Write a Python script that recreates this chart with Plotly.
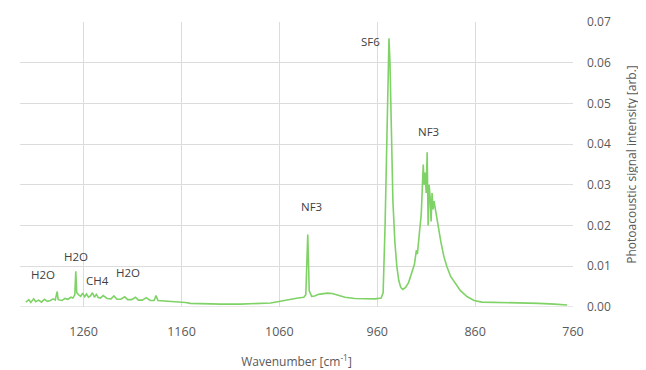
import plotly.graph_objects as go

wavenumber = [1319, 1316, 1314, 1311, 1309, 1306, 1303, 1300, 1297, 1294, 1291, 1289, 1287, 1286,
              1282, 1279, 1276, 1273, 1271, 1269, 1268, 1267, 1265, 1263, 1261, 1259, 1257, 1255,
              1253, 1251, 1249, 1247, 1245, 1243, 1240, 1236, 1232, 1229, 1226, 1222, 1218, 1215,
              1211, 1207, 1204, 1200, 1196, 1192, 1188, 1186, 1184, 1179, 1175, 1171, 1166, 1161,
              1156, 1151, 1141, 1120, 1100, 1079, 1069, 1059, 1049, 1041, 1035, 1033, 1031, 1029.5,
              1027, 1024, 1020, 1016, 1011, 1006, 1000, 993, 983, 972, 962, 956, 954, 952, 951,
              949.5, 948, 947, 946, 945, 944, 942, 940, 938, 936, 934, 931, 928, 925, 922, 920,
              919, 917, 915, 914, 913, 912, 911, 910, 909, 908, 907, 906, 905, 904, 903, 902, 900,
              898, 895, 892, 889, 885, 880, 875, 868, 861, 853, 835, 815, 795, 779, 766]
intensity = [0.0012, 0.0018, 0.0011, 0.0020, 0.0013, 0.0017, 0.0012, 0.0019, 0.0014, 0.0016, 0.0020,
             0.0017, 0.0038, 0.0018, 0.0016, 0.0021, 0.0019, 0.0024, 0.0022, 0.0030, 0.0088, 0.0035,
             0.0030, 0.0026, 0.0034, 0.0025, 0.0032, 0.0024, 0.0027, 0.0035, 0.0024, 0.0031, 0.0023,
             0.0022, 0.0028, 0.0021, 0.0020, 0.0027, 0.0019, 0.0019, 0.0025, 0.0018, 0.0018, 0.0024,
             0.0017, 0.0017, 0.0023, 0.0016, 0.0016, 0.0028, 0.0016, 0.0015, 0.0016, 0.0014, 0.0013,
             0.0013, 0.0011, 0.0009, 0.0008, 0.0007, 0.0007, 0.0008, 0.0010, 0.0014, 0.0019, 0.0022,
             0.0024, 0.0030, 0.0178, 0.0040, 0.0026, 0.0027, 0.0031, 0.0033, 0.0034, 0.0033, 0.0028,
             0.0024, 0.0021, 0.0020, 0.0020, 0.0022, 0.0035, 0.0200, 0.0320, 0.0500, 0.0660, 0.0600,
             0.0450, 0.0330, 0.0260, 0.0160, 0.0100, 0.0065, 0.0048, 0.0043, 0.0048, 0.0060, 0.0080,
             0.0105, 0.0140, 0.0130, 0.0180, 0.0230, 0.0290, 0.0350, 0.0300, 0.0330, 0.0280, 0.0380,
             0.0200, 0.0300, 0.0270, 0.0210, 0.0280, 0.0240, 0.0260, 0.0230, 0.0200, 0.0160, 0.0125,
             0.0100, 0.0075, 0.0058, 0.0040, 0.0025, 0.0016, 0.0012, 0.0011, 0.0011, 0.0009, 0.0007,
             0.0005]

label_text = ["H2O", "H2O", "CH4", "H2O", "NF3", "SF6", "NF3"]
label_x = [1302, 1268, 1246, 1215, 1027, 967, 908]
label_y = [0.0081, 0.0125, 0.0066, 0.0084, 0.0248, 0.0651, 0.0432]

x_ticks = [1260, 1160, 1060, 960, 860, 760]
y_ticks = [0.00, 0.01, 0.02, 0.03, 0.04, 0.05, 0.06, 0.07]

fig = go.Figure()
fig.add_trace(go.Scatter(x=wavenumber, y=intensity, mode="lines",
                         line=dict(color="#7fd266", width=1.6), hoverinfo="skip"))

for t, xv, yv in zip(label_text, label_x, label_y):
    fig.add_annotation(x=xv, y=yv, text=t, showarrow=False,
                       font=dict(family="Open Sans, sans-serif", size=11.5, color="#404040"))

fig.update_layout(
    width=638, height=362,
    margin=dict(l=12, r=73, t=14, b=63),
    paper_bgcolor="white", plot_bgcolor="white",
    showlegend=False,
    font=dict(family="Open Sans, sans-serif", color="#595959"),
    xaxis=dict(range=[1325, 760], tickvals=x_ticks, ticktext=[str(v) for v in x_ticks],
               showgrid=True, gridcolor="#dcdcdc", gridwidth=1, zeroline=False,
               showline=False, ticks="", automargin=False, ticklabelstandoff=15,
               tickfont=dict(size=12.5, color="#595959"),
               title=dict(text="Wavenumber [cm<sup>-1</sup>]", font=dict(size=12, color="#595959"),
                          standoff=22)),
    yaxis=dict(range=[0, 0.07], side="right", tickvals=y_ticks,
               ticktext=["%.2f" % v for v in y_ticks],
               showgrid=True, gridcolor="#dcdcdc", gridwidth=1, zeroline=False,
               showline=False, ticks="", ticklabelstandoff=13, automargin=False,
               tickfont=dict(size=12, color="#595959"),
               title=dict(text="Photoacoustic signal intensity [arb.]",
                          font=dict(size=12, color="#595959"), standoff=17)),
)
fig.add_shape(type="line", xref="paper", yref="y", x0=0, x1=1, y0=0, y1=0,
              line=dict(color="#d0d0d0", width=1))

fig.write_html("out.html")
